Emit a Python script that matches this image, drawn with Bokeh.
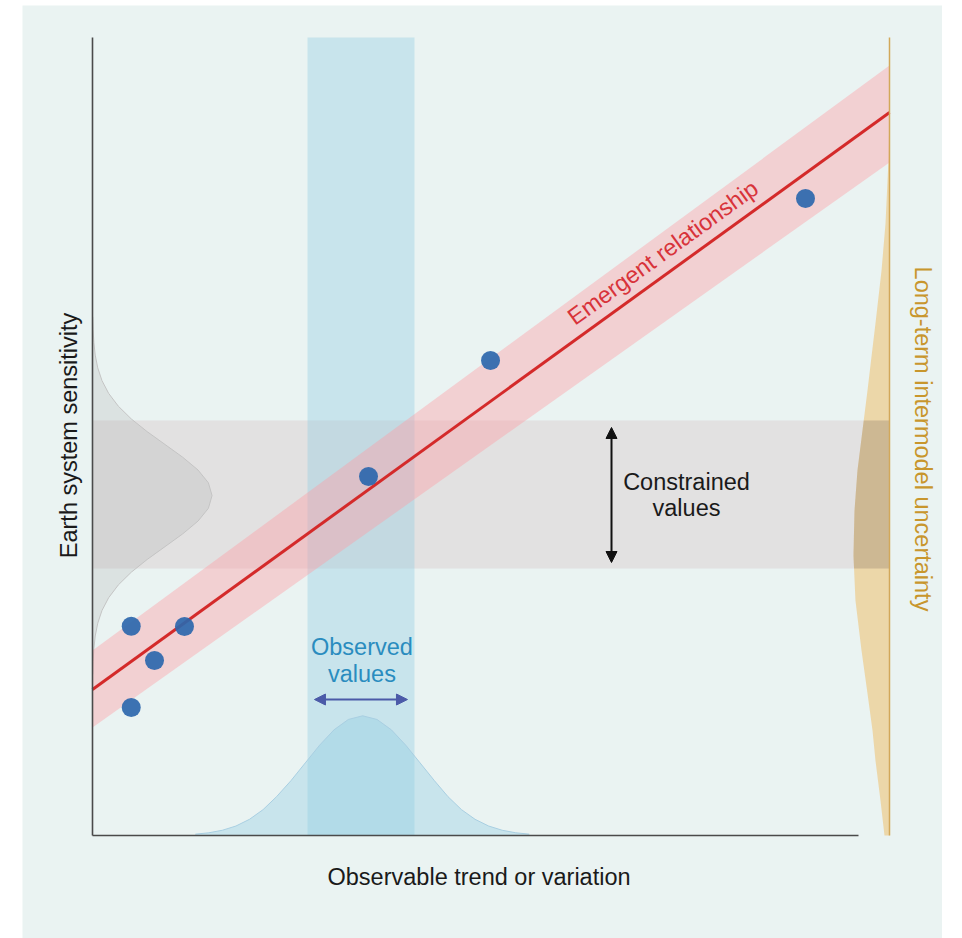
import numpy as np
from bokeh.plotting import figure
from bokeh.models import Range1d, Arrow, NormalHead
from bokeh.core.properties import value
from bokeh.embed import file_html
from bokeh.resources import INLINE

# ---- data (schematic units: observable 0-100, sensitivity 0-100) ----
model_observable = [4.86, 7.78, 11.54, 4.86, 34.63, 49.94, 89.46]
model_sensitivity = [26.23, 21.93, 26.19, 16.04, 44.99, 59.52, 79.82]

fit_x = [0.0, 100.0]
fit_y = [18.30, 90.60]
fit_lower = [13.53, 84.34]
fit_upper = [23.18, 96.49]

observed_range = [26.98, 40.40]
constrained_range = [33.46, 52.01]

observed_pdf_x = [12.9, 14.6, 16.3, 18.0, 19.7, 21.4, 23.1, 24.9, 26.7,
                  28.5, 30.3, 32.1, 33.9, 35.7, 37.5, 39.3, 41.1, 42.9,
                  44.6, 46.3, 48.0, 49.7, 51.4, 53.1, 54.8]
observed_pdf_h = [0.17, 0.34, 0.66, 1.19, 2.03, 3.24, 4.87, 6.87, 9.10, 11.32,
                  13.24, 14.54, 15.00, 14.54, 13.24, 11.32, 9.10, 6.87, 4.87,
                  3.24, 2.03, 1.19, 0.66, 0.34, 0.17]

constrained_pdf_y = [20.2, 21.8, 23.4, 25.0, 26.6, 28.2, 29.8, 31.4, 33.0, 34.6,
                     36.2, 37.8, 39.4, 41.0, 42.6, 44.2, 45.8, 47.4, 49.0, 50.6,
                     52.2, 53.8, 55.4, 57.0, 58.6, 60.2, 61.8, 63.4, 65.0]
constrained_pdf_w = [0.03, 0.08, 0.17, 0.34, 0.66, 1.19, 2.03, 3.24, 4.87, 6.87,
                     9.10, 11.32, 13.24, 14.54, 15.00, 14.54, 13.24, 11.32, 9.10,
                     6.87, 4.87, 3.24, 2.03, 1.19, 0.66, 0.34, 0.17, 0.08, 0.03]

intermodel_pdf_y = [0.0, 4.39, 9.40, 13.16, 17.79, 23.18, 29.45, 35.09, 40.73,
                    45.74, 50.75, 55.76, 60.0, 64.16, 70.80, 76.69, 84.59, 90.85]
intermodel_pdf_w = [0.63, 1.13, 1.76, 2.13, 2.76, 3.51, 4.27, 4.52, 4.39,
                    4.02, 3.39, 2.76, 2.26, 1.76, 1.00, 0.50, 0.13, 0.0]

FONT = value("Liberation Sans")

p = figure(width=920, height=933, output_backend="svg", toolbar_location=None,
           x_range=Range1d(-8.783, 106.650), y_range=Range1d(-12.907, 104.010),
           min_border=0, outline_line_color=None,
           background_fill_color="#eaf3f2", border_fill_color="#eaf3f2")
p.margin = (5, 0, 0, 22)
p.xaxis.visible = False
p.yaxis.visible = False
p.xgrid.visible = False
p.ygrid.visible = False

# constrained (gray) band
p.quad(left=fit_x[0], right=fit_x[1], bottom=constrained_range[0], top=constrained_range[1],
       fill_color="#dcd6d6", fill_alpha=0.6, line_color=None)
# observed (blue) band
p.quad(left=observed_range[0], right=observed_range[1], bottom=0, top=100,
       fill_color="#8ccbe0", fill_alpha=0.37, line_color=None)

# observed pdf
p.varea(x=observed_pdf_x, y1=[0] * len(observed_pdf_x), y2=observed_pdf_h,
        fill_color="#8ccbe0", fill_alpha=0.37)
p.line(observed_pdf_x, observed_pdf_h, line_color="#a9cfe2", line_width=1)

# constrained pdf on the y axis
p.harea(y=constrained_pdf_y, x1=[0] * len(constrained_pdf_y), x2=constrained_pdf_w,
        fill_color="#a0a0a0", fill_alpha=0.2)
p.line(constrained_pdf_w, constrained_pdf_y, line_color="#c4c4c4", line_width=1)

# long-term intermodel uncertainty pdf (extends left from the right line)
tan_x1 = [100 - w for w in intermodel_pdf_w]
p.harea(y=intermodel_pdf_y, x1=tan_x1, x2=[100] * len(intermodel_pdf_y),
        fill_color="#ecd19c", fill_alpha=0.85)
yy = np.linspace(constrained_range[0], constrained_range[1], 40)
ww = np.interp(yy, intermodel_pdf_y, intermodel_pdf_w)
p.harea(y=yy, x1=100 - ww, x2=np.full_like(yy, 100), fill_color="#6e5a50", fill_alpha=0.23)

# emergent relationship band + line
p.varea(x=fit_x, y1=fit_lower, y2=fit_upper, fill_color="#ff9aa2", fill_alpha=0.4)
p.line(fit_x, fit_y, line_color="#d42a2a", line_width=3)

# axes lines
p.line([0, 0], [0, 100], line_color="#4a4a4a", line_width=1.6)
p.line([0, 96.11], [0, 0], line_color="#4a4a4a", line_width=1.6)
p.line([100, 100], [0, 100], line_color="#d2a85a", line_width=1.5)

# models
p.scatter(model_observable, model_sensitivity, size=19, fill_color="#2d67ad",
          fill_alpha=0.92, line_color=None)

# arrows
p.add_layout(Arrow(x_start=65.12, y_start=34.21, x_end=65.12, y_end=51.13,
                   line_color="#111111", line_width=2,
                   start=NormalHead(size=11, fill_color="#111111", line_color="#111111"),
                   end=NormalHead(size=11, fill_color="#111111", line_color="#111111")))
p.add_layout(Arrow(x_start=27.85, y_start=17.04, x_end=39.52, y_end=17.04,
                   line_color="#4b5aa8", line_width=2,
                   start=NormalHead(size=11, fill_color="#4b5aa8", line_color="#4b5aa8"),
                   end=NormalHead(size=11, fill_color="#4b5aa8", line_color="#4b5aa8")))

# texts
common = dict(text_font=FONT, text_font_size="23.5px", text_align="center",
              text_baseline="alphabetic")
p.text(x=[-3.01], y=[50.13], text=["Earth system sensitivity"], angle=np.pi / 2,
       text_color="#1a1a1a", **common)
p.text(x=[48.5], y=[-5.14], text=["Observable trend or variation"],
       text_color="#1a1a1a", **common)
p.text(x=[104.26], y=[49.69], text=["Long-term intermodel uncertainty"], angle=-np.pi / 2,
       text_color="#c8962d", **common)
ang = float(np.arctan2((fit_y[1] - fit_y[0]) * 7.98, (fit_x[1] - fit_x[0]) * 7.97))
p.text(x=[71.56], y=[73.05], text=["Emergent relationship"], angle=ang,
       text_color="#d8333a", **common)
p.text(x=[74.53, 74.53], y=[44.36, 41.10], text=["Constrained", "values"],
       text_color="#1a1a1a", **common)
p.text(x=[33.81, 33.81], y=[23.68, 20.30], text=["Observed", "values"],
       text_color="#2a8cbf", **common)

open("out.html", "w").write(file_html(p, INLINE))
